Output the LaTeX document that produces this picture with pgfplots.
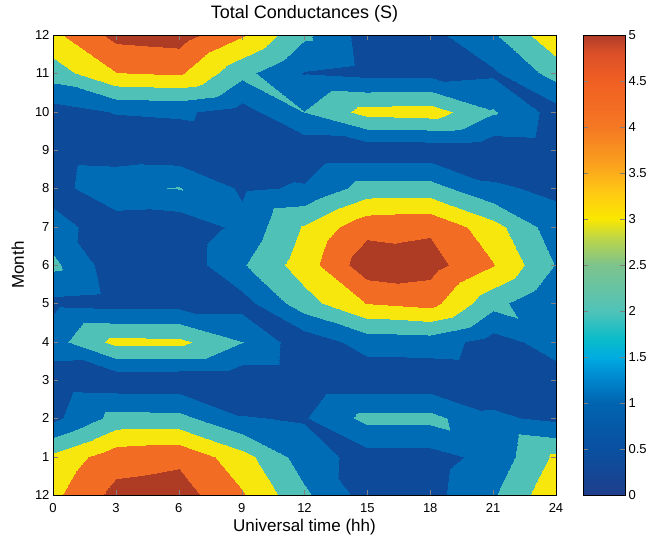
\documentclass[border=0pt]{standalone}
\usepackage{fontspec}
\setmainfont{Liberation Sans}
\usepackage{pgfplots}
\pgfplotsset{compat=1.18}

\begin{document}
\begin{tikzpicture}
\path[use as bounding box] (-53pt,-44pt) rectangle (596pt,495pt);
\begin{axis}[
    at={(0pt,0pt)}, anchor=south west,
    scale only axis, width=503pt, height=460pt,
    xmin=0, xmax=24, ymin=0, ymax=12,
    xtick={0,3,...,24}, ytick={0,1,...,12},
    yticklabels={12,1,2,3,4,5,6,7,8,9,10,11,12},
    tick align=inside, major tick length=5pt,
    ticklabel style={font=\fontsize{13}{15}\selectfont},
    xticklabel style={yshift=-5pt},
    /pgf/number format/assume math mode=true,
    xlabel={Universal time (hh)}, ylabel={Month},
    label style={font=\fontsize{17}{20}\selectfont},
    xlabel style={at={(axis description cs:0.5,-0.0783)}, anchor=base},
    ylabel style={at={(axis description cs:-0.0577,0.5)}, anchor=base, rotate=0},
    title={Total Conductances (S)},
    title style={at={(axis description cs:0.5,1.0239)}, anchor=base, font=\fontsize{18}{21}\selectfont},
    colormap={cfill}{rgb255(0)=(14,74,154) rgb255(1)=(0,108,182) rgb255(2)=(80,193,182)
        rgb255(3)=(247,231,12) rgb255(4)=(242,108,35) rgb255(5)=(174,60,37) rgb255(6)=(174,60,37)},
    colormap access=piecewise constant,
    point meta min=0, point meta max=6,
    axis on top,
]
% UT (h), month index (0 = Dec ... 12 = Dec), conductance (S)
\addplot[surf, shader=interp, mesh/cols=9, point meta=\thisrow{z}] table[x=x, y=y] {
x y z
0 0 3.77
3 0 5.30
6 0 5.45
9 0 4.10
12 0 2.20
15 0 0.57
18 0 0.69
21 0 1.89
24 0 3.77

0 1 3.25
3 1 4.60
6 1 4.80
9 1 3.40
12 1 1.50
15 1 0.60
18 1 0.60
21 1 1.35
24 1 3.20

0 2 0.75
3 2 2.35
6 2 2.30
9 2 1.05
12 2 0.92
15 2 2.30
18 2 2.30
21 2 1.18
24 2 0.77

0 3 0.40
3 3 0.30
6 3 0.30
9 3 0.30
12 3 0.30
15 3 0.30
18 3 0.30
21 3 0.40
24 3 0.55

0 4 1.60
3 4 3.30
6 4 3.25
9 4 2.03
12 4 0.35
15 4 1.43
18 4 1.50
21 4 0.58
24 4 1.45

0 5 0.75
3 5 0.60
6 5 0.60
9 5 0.60
12 5 2.60
15 5 4.05
18 5 4.35
21 5 2.35
24 5 0.97

0 6 2.24
3 6 0.35
6 6 0.30
9 6 1.90
12 6 3.50
15 6 5.60
18 6 5.40
21 6 4.05
24 6 1.95

0 7 1.40
3 7 0.40
6 7 0.30
9 7 1.28
12 7 3.10
15 7 4.70
18 7 4.85
21 7 3.40
24 7 1.40

0 8 0.60
3 8 1.80
6 8 2.05
9 8 0.85
12 8 1.10
15 8 2.40
18 8 2.40
21 8 1.15
24 8 0.80

0 9 0.50
3 9 0.40
6 9 0.30
9 9 0.50
12 9 0.30
15 9 0.35
18 9 0.35
21 9 0.33
24 9 0.45

0 10 0.55
3 10 1.05
6 10 1.15
9 10 0.60
12 10 2.02
15 10 3.35
18 10 3.50
21 10 2.10
24 10 0.60

0 11 2.49
3 11 3.97
6 11 4.15
9 11 2.30
12 11 0.95
15 11 0.70
18 11 0.70
21 11 0.85
24 11 2.42

0 12 3.77
3 12 5.30
6 12 5.45
9 12 4.10
12 12 2.20
15 12 0.57
18 12 0.69
21 12 1.89
24 12 3.77
};
\end{axis}

% colour bar
\begin{axis}[
    at={(530pt,0pt)}, anchor=south west,
    scale only axis, width=42pt, height=460pt,
    xmin=0, xmax=1, ymin=0, ymax=5,
    xtick=\empty, ytick={0,0.5,...,5},
    yticklabel pos=right,
    tick align=inside, major tick length=5pt,
    ticklabel style={font=\fontsize{13}{15}\selectfont},
    yticklabel style={/pgf/number format/.cd, fixed, precision=1},
    /pgf/number format/assume math mode=true,
    colormap={cbar}{rgb255(0)=(30,62,140) rgb255(5)=(10,80,160) rgb255(10)=(0,100,176)
        rgb255(13)=(0,140,210) rgb255(15)=(0,172,225) rgb255(17)=(10,188,200)
        rgb255(20)=(80,195,185) rgb255(25)=(125,195,140) rgb255(28)=(190,215,70)
        rgb255(30)=(250,232,0) rgb255(33)=(255,200,20) rgb255(36)=(250,160,30)
        rgb255(40)=(245,120,35) rgb255(45)=(240,95,35) rgb255(48)=(220,80,40)
        rgb255(50)=(175,60,40)},
    point meta min=0, point meta max=5,
    axis on top,
]
\addplot[surf, shader=interp, point meta=explicit] coordinates {
(0,0) [0] (1,0) [0]

(0,5) [5] (1,5) [5]
};
\end{axis}
\end{tikzpicture}
\end{document}
